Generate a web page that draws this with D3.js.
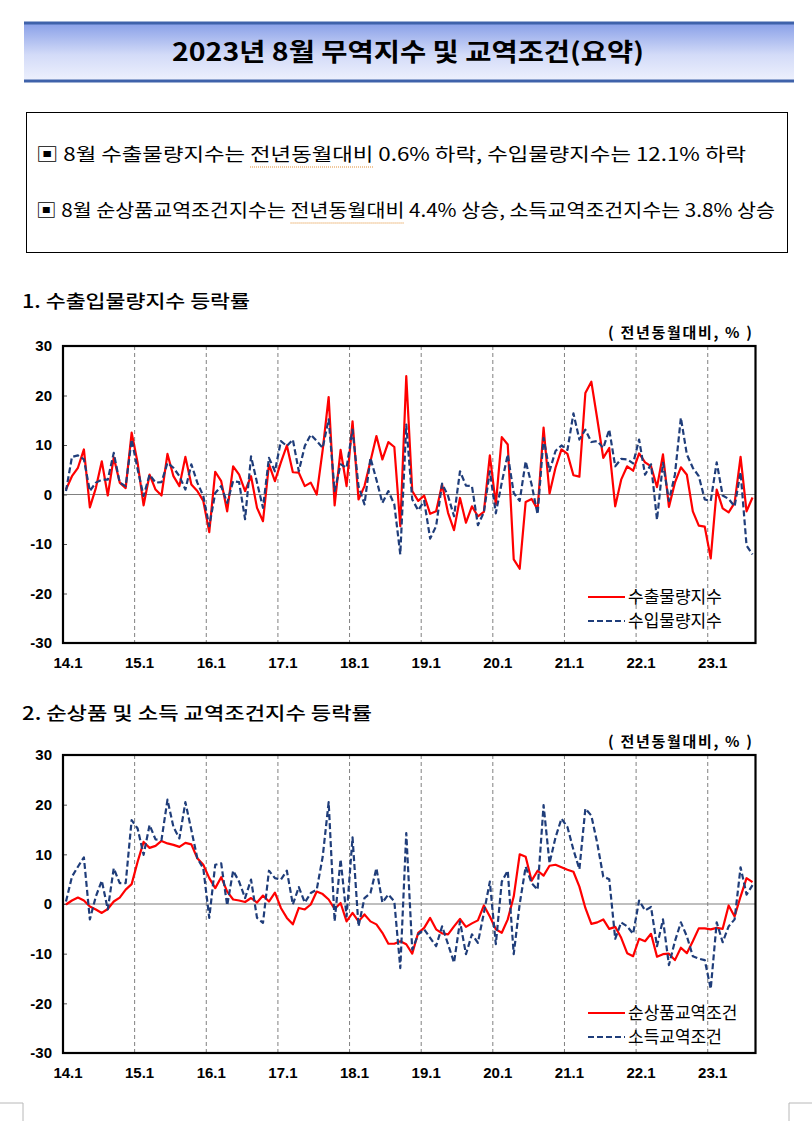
<!DOCTYPE html>
<html>
<head>
<meta charset="utf-8">
<script src="https://cdn.jsdelivr.net/npm/d3@7"></script>
<style>
  body { margin: 0; background: #fff; }
  svg { display: block; }
</style>
</head>
<body>
<svg id="page" width="812" height="1121"></svg>
<script>
// ---- data -------------------------------------------------------------
// months 2014.1 .. 2023.8 (116 points)
const months = d3.range(116).map((i) => `${14 + Math.floor(i / 12)}.${(i % 12) + 1}`);
const tickLabels = ["14.1", "15.1", "16.1", "17.1", "18.1", "19.1", "20.1", "21.1", "22.1", "23.1"];
const yTicks = [-30, -20, -10, 0, 10, 20, 30];

// 수출물량지수 (전년동월대비, %)
const exportVol = [
  1.0, 3.7, 5.4, 9.1, -2.6, 1.3, 6.7, -0.2, 7.5, 2.4, 1.3, 12.5,
  6.4, -2.2, 4.0, 1.0, -0.2, 8.2, 3.7, 1.7, 7.6, 2.0, 0.7, -1.3,
  -7.6, 4.6, 2.7, -3.4, 5.7, 4.0, 0.7, 3.7, -2.7, -5.4, 6.1, 2.7,
  6.5, 9.9, 4.5, 4.4, 1.7, 2.4, 0.0, 9.0, 19.7, -2.2, 9.0, 1.7,
  14.8, -1.0, 1.7, 6.7, 11.8, 7.1, 10.6, 9.6, -6.4, 23.9, 0.7, -1.3,
  -0.2, -3.9, -3.4, 2.0, -3.7, -7.2, -0.7, -5.7, -2.4, -4.4, -3.5, 7.9,
  -2.0, 11.6, 10.1, -13.1, -15.0, -1.5, -0.9, -3.0, 13.5, 0.2, 5.4, 9.1,
  8.2, 3.9, 3.6, 20.5, 22.8, 15.2, 7.4, 9.4, -2.4, 3.0, 5.7, 4.8,
  8.3, 6.5, 5.7, 1.5, 8.1, -2.5, 2.4, 5.5, 4.0, -3.4, -6.3, -6.5,
  -12.9, 1.0, -2.8, -3.6, -1.7, 7.6, -3.4, -0.6
];
// 수입물량지수
const importVol = [
  0.7, 7.6, 7.9, 7.1, 0.7, 2.4, 3.0, 3.0, 8.4, 2.4, 1.7, 11.1,
  5.1, -0.3, 4.0, 2.4, 2.5, 6.4, 5.4, 3.7, 1.0, 6.1, 2.4, -0.3,
  -6.4, 0.3, 1.7, -1.7, 2.7, 2.5, -5.0, 7.7, 2.4, -2.7, 7.4, 4.7,
  10.8, 9.8, 11.1, 4.7, 9.8, 12.1, 10.8, 9.4, 15.2, 0.7, 6.1, 5.4,
  13.1, 1.7, -2.0, 7.4, 3.0, -1.7, 0.7, -2.0, -12.1, 14.1, -1.0, -3.2,
  -1.3, -8.9, -6.4, 2.2, -0.3, -4.4, 4.7, 1.8, 1.7, -6.2, -3.6, 4.7,
  -3.8, 2.4, 8.1, 0.3, -1.3, 6.7, 2.0, -4.0, 11.4, 4.7, 8.8, 9.9,
  9.0, 16.4, 11.1, 13.1, 10.6, 10.8, 9.4, 13.1, 5.7, 7.2, 7.1, 6.3,
  11.1, 4.0, 6.1, -5.1, 6.4, -1.3, 4.0, 15.5, 8.1, 5.4, 3.7, -1.0,
  -1.3, 6.5, -0.2, -0.9, -2.4, 4.5, -10.3, -12.1
];
// 순상품교역조건지수
const netTerms = [
  -0.1, 0.7, 1.3, 0.7, -0.5, -1.1, -1.8, -1.0, 0.5, 1.3, 2.9, 4.0,
  8.5, 12.5, 11.3, 11.7, 12.7, 12.2, 11.9, 11.5, 12.3, 12.0, 9.2, 7.9,
  5.2, 3.2, 5.4, 2.5, 0.9, 0.7, 0.4, 1.2, 0.3, 1.7, 0.5, 2.3,
  -0.8, -2.8, -4.1, -0.8, -1.1, -0.1, 2.5, 2.0, 0.9, -1.0, 0.2, -3.5,
  -1.8, -3.5, -2.1, -3.5, -4.1, -5.8, -8.0, -8.0, -7.5, -8.1, -10.0, -5.8,
  -4.8, -2.8, -5.1, -5.9, -6.1, -4.5, -3.0, -4.6, -3.9, -3.3, -0.3, -2.5,
  -5.1, -5.8, -3.1, 1.5, 10.0, 9.5, 4.7, 6.7, 5.7, 7.7, 7.9, 7.4,
  6.9, 6.5, 3.5, -0.8, -4.0, -3.7, -3.1, -5.0, -4.6, -6.8, -9.9, -10.5,
  -7.0, -7.5, -6.0, -10.6, -10.1, -10.0, -11.3, -8.8, -9.9, -7.5, -4.9, -4.9,
  -5.1, -4.8, -5.0, -0.3, -2.5, 1.5, 5.2, 4.4
];
// 소득교역조건지수
const incomeTerms = [
  0.5, 5.5, 7.5, 9.4, -3.1, 1.5, 4.7, -1.1, 7.2, 4.2, 4.2, 16.9,
  15.2, 9.9, 15.9, 13.0, 12.9, 21.0, 15.5, 13.2, 20.5, 14.9, 9.2, 7.2,
  -2.8, 7.9, 8.2, -0.3, 6.7, 4.5, 1.2, 4.9, -2.8, -3.8, 6.7, 5.2,
  4.9, 6.7, -0.1, 3.4, 0.3, 2.2, 2.9, 9.5, 20.5, -3.5, 9.0, -2.5,
  13.4, -4.5, 1.2, 2.2, 7.2, 0.3, 1.9, 0.5, -12.9, 14.3, -9.2, -6.1,
  -5.1, -6.8, -8.5, -4.5, -8.1, -11.8, -3.5, -10.1, -6.1, -7.8, -1.8, 4.5,
  -8.1, 4.5, 6.7, -10.1, 0.0, 7.5, 4.2, 2.9, 19.9, 8.2, 13.4, 17.2,
  15.5, 10.9, 7.0, 19.2, 17.8, 12.2, 5.5, 5.0, -7.0, -3.7, -4.5, -6.0,
  0.7, -1.3, -0.6, -8.5, -3.1, -12.3, -7.5, -3.7, -6.5, -10.5, -11.0, -11.3,
  -17.1, -3.7, -7.7, -4.5, -3.1, 7.4, 1.9, 3.8
];

const titleText = "2023년 8월 무역지수 및 교역조건(요약)";
const summaryLines = [
  "▣ 8월 수출물량지수는 전년동월대비 0.6% 하락, 수입물량지수는 12.1% 하락",
  "▣ 8월 순상품교역조건지수는 전년동월대비 4.4% 상승, 소득교역조건지수는 3.8% 상승"
];
const sectionTitles = ["1. 수출입물량지수 등락률", "2. 순상품 및 소득 교역조건지수 등락률"];
const unitLabel = "( 전년동월대비, % )";

// ---- page -------------------------------------------------------------
const svg = d3.select("#page");
const KR = "'Noto Sans CJK KR', 'Noto Sans', sans-serif";
const NUM = "'Liberation Sans', Arial, sans-serif";

const defs = svg.append("defs");
const grad = defs.append("linearGradient")
  .attr("id", "banner").attr("x1", 0).attr("y1", 0).attr("x2", 0).attr("y2", 1);
grad.append("stop").attr("offset", "0%").attr("stop-color", "#889fe8");
grad.append("stop").attr("offset", "55%").attr("stop-color", "#d3dbf8");
grad.append("stop").attr("offset", "100%").attr("stop-color", "#eef1fd");

// title banner
svg.append("rect").attr("x", 24).attr("y", 23).attr("width", 770).attr("height", 58)
  .attr("fill", "url(#banner)");
svg.append("line").attr("x1", 24).attr("x2", 794).attr("y1", 23).attr("y2", 23)
  .attr("stroke", "#3f62aa").attr("stroke-width", 3);
svg.append("line").attr("x1", 24).attr("x2", 794).attr("y1", 81).attr("y2", 81)
  .attr("stroke", "#3f62aa").attr("stroke-width", 3);
svg.append("text").attr("x", 408).attr("y", 52).attr("dy", "0.36em")
  .attr("text-anchor", "middle").attr("font-family", KR).attr("font-weight", 700)
  .attr("font-size", 25).attr("textLength", 472).attr("lengthAdjust", "spacingAndGlyphs")
  .text(titleText);

// summary box
svg.append("rect").attr("x", 26.5).attr("y", 112.5).attr("width", 761).attr("height", 140)
  .attr("fill", "none").attr("stroke", "#000").attr("stroke-width", 1);
const lineWidths = [710, 739];
summaryLines.forEach((s, k) => {
  const t = svg.append("text").attr("x", 36).attr("y", 155 + k * 56).attr("dy", "0.36em")
    .attr("font-family", KR).attr("font-size", 18)
    .attr("textLength", lineWidths[k]).attr("lengthAdjust", "spacingAndGlyphs")
    .text(s);
  // spell-check squiggle under 전년동월대비
  const i0 = s.indexOf("전년동월대비");
  const node = t.node();
  const a = node.getExtentOfChar(i0);
  const b = node.getExtentOfChar(i0 + 5);
  svg.append("line").attr("x1", a.x).attr("x2", b.x + b.width)
    .attr("y1", 155 + k * 56 + 12).attr("y2", 155 + k * 56 + 12)
    .attr("stroke", "#e08a2a").attr("stroke-width", 1.2).attr("stroke-dasharray", "1,1");
});

// section headings
[302, 714].forEach((yy, k) => {
  svg.append("text").attr("x", 22).attr("y", yy).attr("dy", "0.36em")
    .attr("font-family", KR).attr("font-size", 18).attr("font-weight", 500)
    .attr("textLength", k === 0 ? 228 : 350).attr("lengthAdjust", "spacingAndGlyphs")
    .text(sectionTitles[k]);
});

// ---- charts -----------------------------------------------------------
const x = d3.scaleBand().domain(months).range([63, 755.5]);
const cx = (d) => x(d) + x.bandwidth() / 2;

function drawChart(cfg) {
  const g = svg.append("g");
  const y = d3.scaleLinear().domain([-30, 30]).range([cfg.bottom, cfg.top]);

  g.append("text").attr("x", 752).attr("y", cfg.top - 13).attr("dy", "0.36em")
    .attr("text-anchor", "end").attr("font-family", KR).attr("font-weight", 700)
    .attr("font-size", 15).attr("textLength", 144).attr("lengthAdjust", "spacing")
    .text(unitLabel);

  // vertical dashed gridlines at each January
  g.selectAll(".grid").data(tickLabels.slice(1)).join("line")
    .attr("x1", (d) => x(d)).attr("x2", (d) => x(d))
    .attr("y1", cfg.top).attr("y2", cfg.bottom)
    .attr("stroke", "#808080").attr("stroke-width", 1).attr("stroke-dasharray", "4,3");

  // zero line
  g.append("line").attr("x1", 63).attr("x2", 755.5).attr("y1", y(0)).attr("y2", y(0))
    .attr("stroke", "#808080").attr("stroke-width", 1.2);

  // y axis
  const ya = g.append("g").attr("transform", "translate(63,0)")
    .call(d3.axisLeft(y).tickValues(yTicks).tickSize(-4).tickPadding(11).tickFormat((d) => String(d)));
  ya.select(".domain").remove();
  ya.selectAll("line").attr("stroke", "#555");
  ya.selectAll("text").attr("font-family", NUM).attr("font-weight", 700).attr("font-size", 15).attr("fill", "#000");

  // x labels
  g.selectAll(".xl").data(tickLabels).join("text")
    .attr("x", (d) => cx(d) + 2).attr("y", cfg.bottom + 20).attr("dy", "0.36em")
    .attr("text-anchor", "middle").attr("font-family", NUM).attr("font-weight", 700)
    .attr("font-size", 15).text((d) => d);

  // series
  cfg.series.forEach((s) => {
    const line = d3.line().x((d, i) => cx(months[i])).y((d) => y(d));
    g.append("path").datum(s.values).attr("d", line)
      .attr("fill", "none").attr("stroke", s.color).attr("stroke-width", s.width)
      .attr("stroke-dasharray", s.dash).attr("stroke-linejoin", "round");
  });

  // frame
  g.append("rect").attr("x", 63).attr("y", cfg.top).attr("width", 692.5)
    .attr("height", cfg.bottom - cfg.top).attr("fill", "none")
    .attr("stroke", "#000").attr("stroke-width", 2.2);

  // legend
  cfg.series.forEach((s, k) => {
    const ly = cfg.legendY + k * 24;
    g.append("line").attr("x1", 588).attr("x2", 625).attr("y1", ly).attr("y2", ly)
      .attr("stroke", s.color).attr("stroke-width", s.width).attr("stroke-dasharray", s.dash);
    g.append("text").attr("x", 628).attr("y", ly).attr("dy", "0.36em")
      .attr("font-family", KR).attr("font-size", 17).text(s.name);
  });
}

drawChart({
  top: 346, bottom: 643, legendY: 597,
  series: [
    { name: "수출물량지수", values: exportVol, color: "#ff0000", width: 2.2, dash: null },
    { name: "수입물량지수", values: importVol, color: "#1f3d7a", width: 2.2, dash: "6,3" }
  ]
});
drawChart({
  top: 755, bottom: 1053, legendY: 1013,
  series: [
    { name: "순상품교역조건", values: netTerms, color: "#ff0000", width: 2.2, dash: null },
    { name: "소득교역조건", values: incomeTerms, color: "#1f3d7a", width: 2.2, dash: "6,3" }
  ]
});

// page corner marks
svg.append("path").attr("d", "M0,1103H23V1121").attr("fill", "none").attr("stroke", "#b8b8b8");
svg.append("path").attr("d", "M812,1103H789V1121").attr("fill", "none").attr("stroke", "#b8b8b8");
</script>
</body>
</html>
